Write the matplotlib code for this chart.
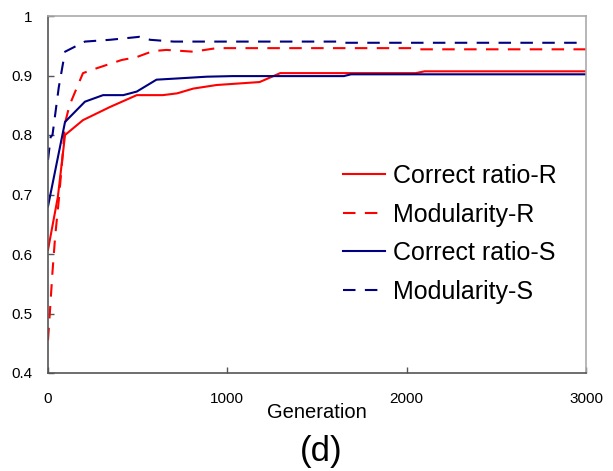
import matplotlib
matplotlib.use("Agg")
import matplotlib.pyplot as plt

plt.rcParams["font.family"] = ["Liberation Sans", "DejaVu Sans"]

# Correct ratio-R (red solid)
gen_cr_r = [0, 55, 95, 195, 345, 495, 640, 720, 810, 940, 1180, 1295, 2050, 2100, 3000]
val_cr_r = [0.607, 0.696, 0.800, 0.825, 0.847, 0.867, 0.867, 0.870, 0.878, 0.884,
            0.889, 0.904, 0.904, 0.907, 0.907]

# Modularity-R (red dashed)
gen_mod_r = [0, 10, 25, 40, 60, 80, 95, 120, 195, 270, 410, 495, 585, 660, 810, 940,
             2030, 2060, 3000]
val_mod_r = [0.455, 0.500, 0.570, 0.630, 0.690, 0.760, 0.820, 0.850, 0.904, 0.912,
             0.926, 0.931, 0.941, 0.943, 0.940, 0.946, 0.946, 0.944, 0.944]

# Correct ratio-S (navy solid)
gen_cr_s = [0, 95, 206, 307, 420, 495, 605, 720, 885, 1030, 1650, 1690, 3000]
val_cr_s = [0.680, 0.822, 0.856, 0.867, 0.867, 0.873, 0.893, 0.895, 0.898, 0.899,
            0.899, 0.902, 0.902]

# Modularity-S (navy dashed)
gen_mod_s = [0, 15, 25, 60, 95, 206, 345, 510, 570, 700, 1610, 1640, 3000]
val_mod_s = [0.758, 0.797, 0.800, 0.880, 0.940, 0.957, 0.960, 0.965, 0.960, 0.957,
             0.957, 0.955, 0.955]

x_ticks = [0, 1000, 2000, 3000]
y_ticks = [0.4, 0.5, 0.6, 0.7, 0.8, 0.9, 1.0]
y_tick_labels = ["0.4", "0.5", "0.6", "0.7", "0.8", "0.9", "1"]

red = "#FF0000"
navy = "#000080"
dash = (6, 4.5)

fig = plt.figure(figsize=(6.13, 4.71), dpi=100)
ax = fig.add_axes([48 / 613, 98 / 471, 538 / 613, 357 / 471])

ax.plot(gen_cr_r, val_cr_r, color=red, lw=1.5, label="Correct ratio-R")
ax.plot(gen_mod_r, val_mod_r, color=red, lw=1.5, dashes=dash, label="Modularity-R")
ax.plot(gen_cr_s, val_cr_s, color=navy, lw=1.5, label="Correct ratio-S")
ax.plot(gen_mod_s, val_mod_s, color=navy, lw=1.5, dashes=dash, label="Modularity-S")

ax.set_xlim(0, 3000)
ax.set_ylim(0.4, 1.0)
ax.set_xticks(x_ticks)
ax.set_yticks(y_ticks)
ax.set_yticklabels(y_tick_labels)
ax.tick_params(axis="both", direction="in", length=4, width=1, color="#555555",
               labelsize=11)
ax.tick_params(axis="x", pad=14)
ax.tick_params(axis="y", pad=11)

for side in ["left", "bottom"]:
    ax.spines[side].set_color("#555555")
    ax.spines[side].set_linewidth(1.2)
for side in ["top", "right"]:
    ax.spines[side].set_color("#AAAAAA")
    ax.spines[side].set_linewidth(1.2)

fig.text(317 / 613, 1 - 413 / 471, "Generation", ha="center", va="center", fontsize=14.5)
fig.text(321 / 613, 1 - 451 / 471, "(d)", ha="center", va="center", fontsize=25)

ax.legend(loc="center left", bbox_to_anchor=(0.548, 0.39), frameon=False,
          fontsize=18, handlelength=1.7, handletextpad=0.32, labelspacing=0.58,
          borderaxespad=0, borderpad=0)

fig.savefig("out.png", dpi=100)
